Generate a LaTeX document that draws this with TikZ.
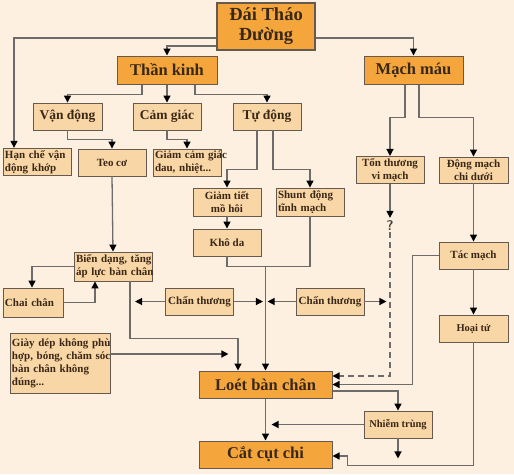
\documentclass[tikz,border=0pt]{standalone}
\usepackage{fontspec}
\setmainfont{Liberation Serif}
\usetikzlibrary{arrows.meta}
\definecolor{bgc}{HTML}{FDF0E1}
\definecolor{ltfill}{HTML}{F9D6A6}
\definecolor{dkfill}{HTML}{F4A63C}
\definecolor{boxline}{HTML}{66594F}
\definecolor{lnc}{HTML}{6E6C6A}
\definecolor{txt}{HTML}{3A2816}
\tikzset{
  dkbox/.style={draw=boxline, fill=dkfill, line width=1pt, inner sep=2pt, text=txt,
    minimum height=27pt, font=\bfseries\fontsize{16.5}{19}\selectfont},
  ltbox/.style={draw=boxline, fill=ltfill, line width=0.9pt, inner sep=2pt, text=txt,
    minimum width=68pt, minimum height=27pt, align=center, font=\bfseries\fontsize{11}{13}\selectfont},
  midbox/.style={ltbox, font=\bfseries\fontsize{13.5}{16}\selectfont},
  leftbox/.style={ltbox, align=left, text width=#1},
  ln/.style={draw=lnc, line width=1.3pt},
  arr/.style={ln, -{Triangle[length=7pt, width=7pt, color=black]}},
  dsh/.style={arr, dash pattern=on 6pt off 4pt},
}
\begin{document}
\begin{tikzpicture}
% Diabetic foot diagram, 1 unit = 1 px of the 514x474 layout
\begin{scope}[x=1pt, y=-1pt, line cap=butt, line join=miter]
  % Background
  \fill[bgc] (0,0) rectangle (514,474);
  % Top level
  \node[dkbox, line width=1.8pt, minimum width=98pt, minimum height=47pt, align=center,
    font=\bfseries\fontsize{18.5}{20}\selectfont] (dtd) at (266,26.5) {Đái Tháo\\Đường};
  \node[dkbox, minimum width=100pt, minimum height=28pt] (tk) at (167,70) {Thần kinh};
  \node[dkbox, minimum width=99pt, minimum height=28pt] (mm) at (413.5,70) {Mạch máu};
  % Nerve branches
  \node[midbox, minimum width=69pt] (vd) at (67.5,116.5) {Vận động};
  \node[midbox] (cg) at (167,116.5) {Cảm giác};
  \node[midbox] (td) at (267,116.5) {Tự động};
  \node[leftbox=64pt, minimum height=26pt] (hc) at (37,162) {Hạn~chế~vận\\động~khớp};
  \node[ltbox] (teo) at (112,162.5) {Teo cơ};
  \node[leftbox=64pt] (gcg) at (187,162.5) {Giảm~cảm~giác\\đau,~nhiệt...};
  \node[ltbox, minimum height=28pt] (gt) at (227,202) {Giảm tiết\\mồ hôi};
  \node[leftbox=64pt, minimum height=28pt] (sh) at (310,202) {Shunt~động\\tĩnh~mạch};
  \node[ltbox] (kd) at (227,242.5) {Khô da};
  % Vessel branches
  \node[ltbox, minimum height=26pt] (ttvm) at (390,170) {Tổn thương\\vi mạch};
  \node[ltbox, minimum width=69pt, minimum height=26pt] (dm) at (473.5,170) {Động mạch\\chi dưới};
  \node[ltbox, minimum width=69pt] (tm) at (473.5,255.5) {Tác mạch};
  \node[ltbox, minimum width=69pt, font=\bfseries\fontsize{10.5}{12}\selectfont] (ht) at (473.5,328.5) {Hoại tử};
  \node[text=lnc!60!black, inner sep=1pt, font=\sffamily\bfseries\fontsize{14}{14}\selectfont] (q) at (390,226) {?};
  % Foot level
  \node[leftbox=74pt, minimum height=29pt] (bd) at (113,266.5) {Biến~dạng,~tăng\\áp~lực~bàn~chân};
  \node[leftbox=56pt, minimum width=60pt, minimum height=29pt] (cc) at (33,302.5) {Chai~chân};
  \node[ltbox] (ct1) at (199.5,301.5) {Chấn thương};
  \node[ltbox] (ct2) at (330,301.5) {Chấn thương};
  \node[leftbox=96pt, minimum height=60pt] (gd) at (60,363) {Giày~dép~không~phù\\hợp,~bóng,~chăm~sóc\\bàn~chân~không\\đúng...};
  % Outcomes
  \node[dkbox, minimum width=133pt] (loet) at (265.5,384.5) {Loét bàn chân};
  \node[ltbox, font=\bfseries\fontsize{10.5}{12}\selectfont] (nt) at (398,424.5) {Nhiễm trùng};
  \node[dkbox, minimum width=133pt] (cat) at (265.5,454.5) {Cắt cụt chi};
  % Connectors from the top
  \draw[arr] ([yshift=-11.5pt]dtd.west) -| ([xshift=-23pt]hc.north);
  \draw[arr] ([yshift=-19.5pt]dtd.west) -| (tk.north);
  \draw[arr] ([yshift=-11.5pt]dtd.east) -| (mm.north);
  \draw[arr] ([xshift=-25pt]tk.south) -- ++(0,-10pt) -| (vd.north);
  \draw[arr] (tk.south) -- (cg.north);
  \draw[arr] ([xshift=28pt]tk.south) -- ++(0,-10pt) -| (td.north);
  \draw[arr] (vd.south) -- ++(0,-9pt) -| (teo.north);
  \draw[arr] (cg.south) -- ++(0,-9pt) -| (gcg.north);
  \draw[arr] ([xshift=-10pt]td.south) -- ++(0,-39pt) -| (gt.north);
  \draw[arr] ([xshift=6pt]td.south) -- ++(0,-39pt) -| (sh.north);
  \draw[arr] (gt.south) -- (kd.north);
  % Autonomic paths join and go down
  \draw[ln] (kd.south) -- ++(0,-10pt) -| (sh.south);
  \path (kd.south) ++(0,-10pt) coordinate (kdlow);
  \coordinate (j) at (kdlow -| loet.north);
  \draw[arr] (j) -- (loet.north);
  % Vessel side
  \draw[arr] ([xshift=-8.5pt]mm.south) -- ++(0,-33pt) -| (ttvm.north);
  \draw[arr] ([xshift=5.5pt]mm.south) -- ++(0,-33pt) -| (dm.north);
  \draw[arr] (ttvm.south) -- ([yshift=2pt]q.north);
  \draw[dsh] (q.south) |- ([yshift=8.5pt]loet.east);
  \draw[arr] (dm.south) -- (tm.north);
  \draw[arr] (tm.west) -- ++(-26pt,0) |- (loet.east);
  \draw[arr] (tm.south) -- (ht.north);
  \draw[arr] (ht.south) -- ++(0,-123pt) -| ([xshift=15pt,yshift=-1.5pt]cat.east) -- ([yshift=-1.5pt]cat.east);
  % Foot side
  \draw[arr] (teo.south) -- (bd.north);
  \draw[arr] (bd.west) -| ([xshift=-1pt]cc.north);
  \draw[arr] (cc.east) -| ([xshift=-18pt]bd.south);
  \draw[arr] ([xshift=17pt]bd.south) -- ++(0,-57pt) -| ([xshift=-27.5pt]loet.north);
  \draw[arr] ([yshift=9pt]gd.east) -- ++(118pt,0);
  \draw[arr] (ct1.west) -- ++(-30pt,0);
  \draw[arr] (ct1.east) -- ++(29pt,0);
  \draw[arr] (ct2.west) -- ++(-28pt,0);
  \draw[arr] (ct2.east) -- ++(22pt,0);
  % Ulcer, infection, amputation
  \draw[arr] ([yshift=-6.5pt]loet.east) -| (nt.north);
  \draw[arr] (nt.west) -- ++(-92pt,0);
  \draw[arr] (nt.south) -- ++(0,-20pt);
  \draw[arr] (loet.south) -- (cat.north);
\end{scope}
\end{tikzpicture}
\end{document}
